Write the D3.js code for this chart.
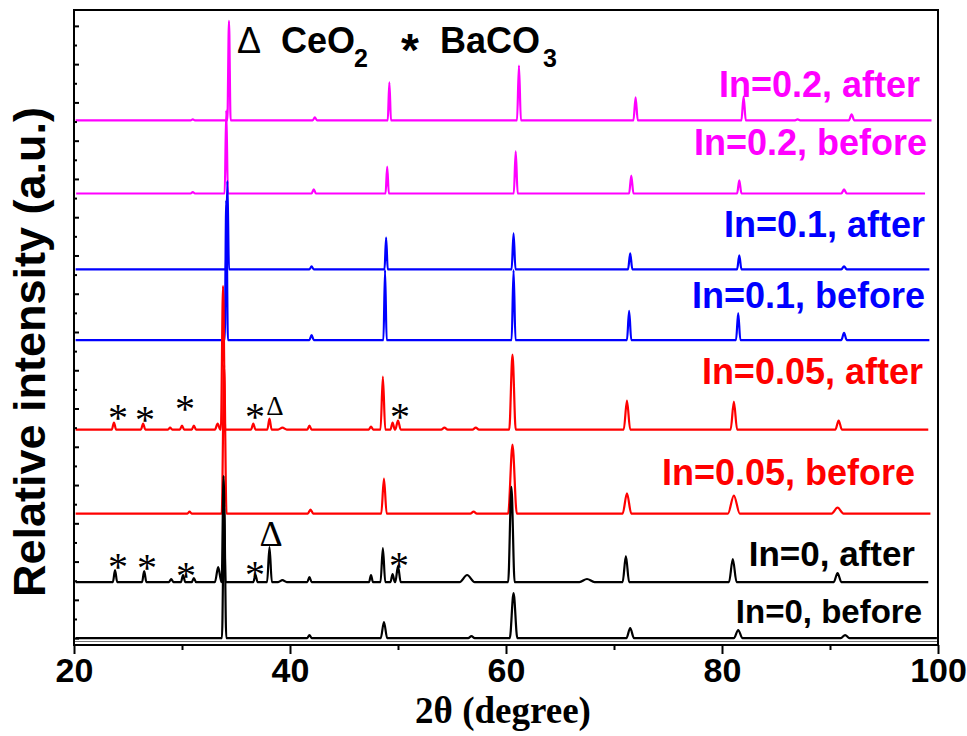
<!DOCTYPE html>
<html lang="en">
<head>
<meta charset="UTF-8">
<title>XRD patterns, In-doped samples before and after</title>
<style>
  body { margin: 0; background: #fff; }
  svg { display: block; }
  .sans { font-family: "Liberation Sans", Arial, sans-serif; font-weight: bold; }
  .serif { font-family: "Liberation Serif", "Times New Roman", serif; }
</style>
</head>
<body>
<div id="chart"></div>
<script src="https://d3js.org/d3.v7.min.js"></script>
<script>
const w = 967, h = 736;
const margin = {top: 10, right: 29, bottom: 91, left: 74};

// one entry per scan, top to bottom
const names = ["In=0.2, after", "In=0.2, before", "In=0.1, after", "In=0.1, before",
               "In=0.05, after", "In=0.05, before", "In=0, after", "In=0, before"];
const colors = ["#ff00ff", "#ff00ff", "#0000ff", "#0000ff", "#ff0000", "#ff0000", "#000000", "#000000"];
const offsets = [27.06, 23.24, 19.27, 15.58, 10.90, 6.51, 2.93, 0];   // vertical shift (a.u.)
const scanStart = [20.15, 20.2, 20.15, 20.15, 20.15, 20.15, 20.15, 20.15];
const scanEnd = [99.4, 98.8, 99.2, 99.2, 99.1, 99.3, 99.1, 99.9];

// peaks: [2theta, height (a.u.), half width at the foot (deg)]
const peaksIn02After = [[31.0, 0.05, 0.2], [34.35, 5.20, 0.15], [42.3, 0.16, 0.2], [49.2, 1.99, 0.15],
  [61.2, 2.87, 0.18], [72.0, 1.20, 0.2], [82.0, 1.25, 0.2], [87.0, 0.05, 0.3], [92.0, 0.31, 0.25]];
const peaksIn02Before = [[31.0, 0.07, 0.2], [34.1, 4.35, 0.15], [42.2, 0.21, 0.2], [49.0, 1.41, 0.15],
  [60.9, 2.20, 0.18], [71.6, 0.94, 0.2], [81.6, 0.68, 0.2], [91.3, 0.21, 0.25]];
const peaksIn01After = [[34.2, 4.63, 0.15], [42.0, 0.16, 0.2], [48.9, 1.67, 0.15], [60.7, 1.88, 0.18],
  [71.5, 0.84, 0.2], [81.6, 0.73, 0.2], [91.3, 0.16, 0.25]];
const peaksIn01Before = [[34.1, 7.30, 0.15], [42.0, 0.26, 0.2], [48.8, 3.66, 0.15], [60.7, 3.66, 0.18],
  [71.4, 1.52, 0.2], [81.5, 1.41, 0.2], [91.3, 0.37, 0.25]];
const peaksIn005After = [[23.7, 0.37, 0.2], [26.4, 0.31, 0.2], [28.9, 0.10, 0.2], [30.0, 0.21, 0.2],
  [31.1, 0.21, 0.2], [33.3, 0.31, 0.25], [33.8, 7.50, 0.2], [36.6, 0.31, 0.2], [38.1, 0.57, 0.2],
  [39.3, 0.10, 0.4], [41.8, 0.21, 0.2], [47.5, 0.16, 0.2], [48.6, 2.77, 0.22], [49.5, 0.37, 0.2],
  [50.0, 0.47, 0.25], [54.3, 0.10, 0.3], [57.2, 0.10, 0.3], [60.6, 3.92, 0.3], [71.2, 1.52, 0.3],
  [81.1, 1.46, 0.3], [90.8, 0.47, 0.3]];
const peaksIn005Before = [[30.7, 0.10, 0.2], [33.9, 7.75, 0.22], [41.9, 0.21, 0.25], [48.7, 1.83, 0.25],
  [57.0, 0.10, 0.3], [60.6, 3.60, 0.4], [71.2, 1.05, 0.4], [81.1, 0.94, 0.55], [90.7, 0.31, 0.55]];
const peaksIn0After = [[23.8, 0.63, 0.2], [26.5, 0.57, 0.2], [29.0, 0.16, 0.2], [30.1, 0.37, 0.2],
  [31.1, 0.21, 0.2], [33.35, 0.78, 0.3], [33.85, 5.54, 0.18], [36.8, 0.37, 0.2], [38.1, 1.83, 0.22],
  [39.3, 0.10, 0.4], [41.8, 0.26, 0.2], [47.5, 0.37, 0.18], [48.6, 1.78, 0.22], [49.5, 0.42, 0.2],
  [50.0, 0.84, 0.25], [56.4, 0.37, 0.7], [60.5, 4.97, 0.3], [67.5, 0.16, 0.7], [71.1, 1.36, 0.3],
  [81.0, 1.20, 0.35], [90.7, 0.47, 0.35]];
const peaksIn0Before = [[33.9, 6.98, 0.2], [41.8, 0.16, 0.2], [48.7, 0.84, 0.3], [56.8, 0.10, 0.3],
  [60.7, 2.35, 0.35], [71.5, 0.52, 0.35], [81.5, 0.42, 0.4], [91.4, 0.16, 0.4]];
const peakLists = [peaksIn02After, peaksIn02Before, peaksIn01After, peaksIn01Before,
                   peaksIn005After, peaksIn005Before, peaksIn0After, peaksIn0Before];

// phase marks: [2theta, a.u.]
const bacoMarks = [[24.07, 11.87], [26.57, 11.77], [30.28, 12.34], [36.75, 11.92], [50.19, 11.92],
                   [24.07, 4.08], [26.76, 4.03], [30.37, 3.61], [36.76, 3.66], [50.09, 4.14]];
const ceoMarks = [[38.6, 12.13], [38.24, 5.44]];

const xMajor = [20, 40, 60, 80, 100];
const xMinor = [30, 50, 70, 90];
const yMajor = d3.range(0, 33, 2);
const yMinor = d3.range(1, 32, 2);

// label placement (right edge x, baseline y, size)
const labelPos = [[920, 97, 36], [927, 155, 36], [925, 237, 36], [925, 308, 36],
                  [923, 384, 36], [915, 485, 36], [915, 566, 35], [922, 623, 33]];

const x = d3.scaleLinear().domain([20, 100]).range([margin.left, w - margin.right]);
const y = d3.scaleLinear().domain([-0.36, 32.83]).range([h - margin.bottom, margin.top]);

const svg = d3.select('#chart').append('svg').attr('width', w).attr('height', h);

// traces: baseline with each peak as foot - top - foot
const line = d3.line().x(d => x(d[0])).y(d => y(d[1])).curve(d3.curveMonotoneX);
const traces = peakLists.map((pk, i) => {
  const pts = [[scanStart[i], offsets[i]]];
  pk.forEach(p => {
    pts.push([p[0] - p[2], offsets[i]], [p[0], offsets[i] + p[1]], [p[0] + p[2], offsets[i]]);
  });
  pts.push([scanEnd[i], offsets[i]]);
  return pts;
});

svg.append('g').selectAll('path')
  .data(traces)
  .enter().append('path')
  .attr('d', line)
  .attr('fill', 'none')
  .attr('stroke', (d, i) => colors[i])
  .attr('stroke-width', 2.2)
  .attr('stroke-linejoin', 'round');

// frame
svg.append('line')
  .attr('x1', x(20)).attr('x2', x(100))
  .attr('y1', y.range()[0] - 3.5).attr('y2', y.range()[0] - 3.5)
  .attr('stroke', '#777').attr('stroke-width', 1);
svg.append('rect')
  .attr('x', x(20)).attr('y', margin.top)
  .attr('width', x(100) - x(20)).attr('height', y.range()[0] - margin.top)
  .attr('fill', 'none').attr('stroke', '#000').attr('stroke-width', 2);

// x axis
const gx = svg.append('g').attr('transform', `translate(0,${y.range()[0]})`);
gx.call(d3.axisBottom(x).tickValues(xMajor).tickSize(9).tickPadding(4).tickFormat(d3.format('d')));
gx.append('g').call(d3.axisBottom(x).tickValues(xMinor).tickSize(5).tickFormat(''));
gx.selectAll('.domain').remove();
gx.selectAll('line').attr('stroke', '#000').attr('stroke-width', 2);
gx.selectAll('text').attr('class', 'sans').attr('font-size', 34).attr('fill', '#000');

// y axis, ticks inside, no labels
const gy = svg.append('g').attr('transform', `translate(${x(20)},0)`);
gy.call(d3.axisRight(y).tickValues(yMajor).tickSize(5).tickFormat(''));
gy.append('g').call(d3.axisRight(y).tickValues(yMinor).tickSize(3).tickFormat(''));
gy.selectAll('.domain').remove();
gy.selectAll('line').attr('stroke', '#000').attr('stroke-width', 2);

// axis titles
const xt = svg.append('text').attr('class', 'serif')
  .attr('x', 503).attr('y', 723)
  .attr('text-anchor', 'middle').attr('font-size', 37).attr('font-weight', 'bold');
xt.append('tspan').text('2θ');
xt.append('tspan').text(' (degree)');

svg.append('text').attr('class', 'sans')
  .attr('transform', `translate(45,352) rotate(-90)`)
  .attr('text-anchor', 'middle').attr('font-size', 45)
  .text('Relative intensity (a.u.)');

// series labels
svg.append('g').selectAll('text')
  .data(names)
  .enter().append('text')
  .attr('class', 'sans')
  .attr('x', (d, i) => labelPos[i][0]).attr('y', (d, i) => labelPos[i][1])
  .attr('font-size', (d, i) => labelPos[i][2])
  .attr('text-anchor', 'end')
  .attr('fill', (d, i) => colors[i])
  .text(d => d);

// phase legend at top
const leg = svg.append('g').attr('class', 'sans').attr('font-size', 36);
leg.append('text').attr('x', 237).attr('y', 53).attr('font-weight', 'normal').text('Δ');
leg.append('text').attr('x', 281).attr('y', 53).text('CeO');
leg.append('text').attr('x', 354).attr('y', 67).attr('font-size', 25).text('2');
leg.append('text').attr('x', 401).attr('y', 66).attr('font-size', 46).text('*');
leg.append('text').attr('x', 440).attr('y', 53).text('BaCO');
leg.append('text').attr('x', 543).attr('y', 67).attr('font-size', 25).text('3');

// peak marks
svg.append('g').selectAll('text')
  .data(bacoMarks)
  .enter().append('text')
  .attr('class', 'serif')
  .attr('x', d => x(d[0])).attr('y', d => y(d[1]))
  .attr('dy', '0.5em')
  .attr('text-anchor', 'middle').attr('font-size', 40)
  .text('*');

svg.append('g').selectAll('text')
  .data(ceoMarks)
  .enter().append('text')
  .attr('class', 'serif')
  .attr('x', d => x(d[0])).attr('y', d => y(d[1]))
  .attr('dy', '0.33em')
  .attr('text-anchor', 'middle')
  .attr('font-size', (d, i) => i === 0 ? 27 : 36)
  .text('Δ');
</script>
</body>
</html>
